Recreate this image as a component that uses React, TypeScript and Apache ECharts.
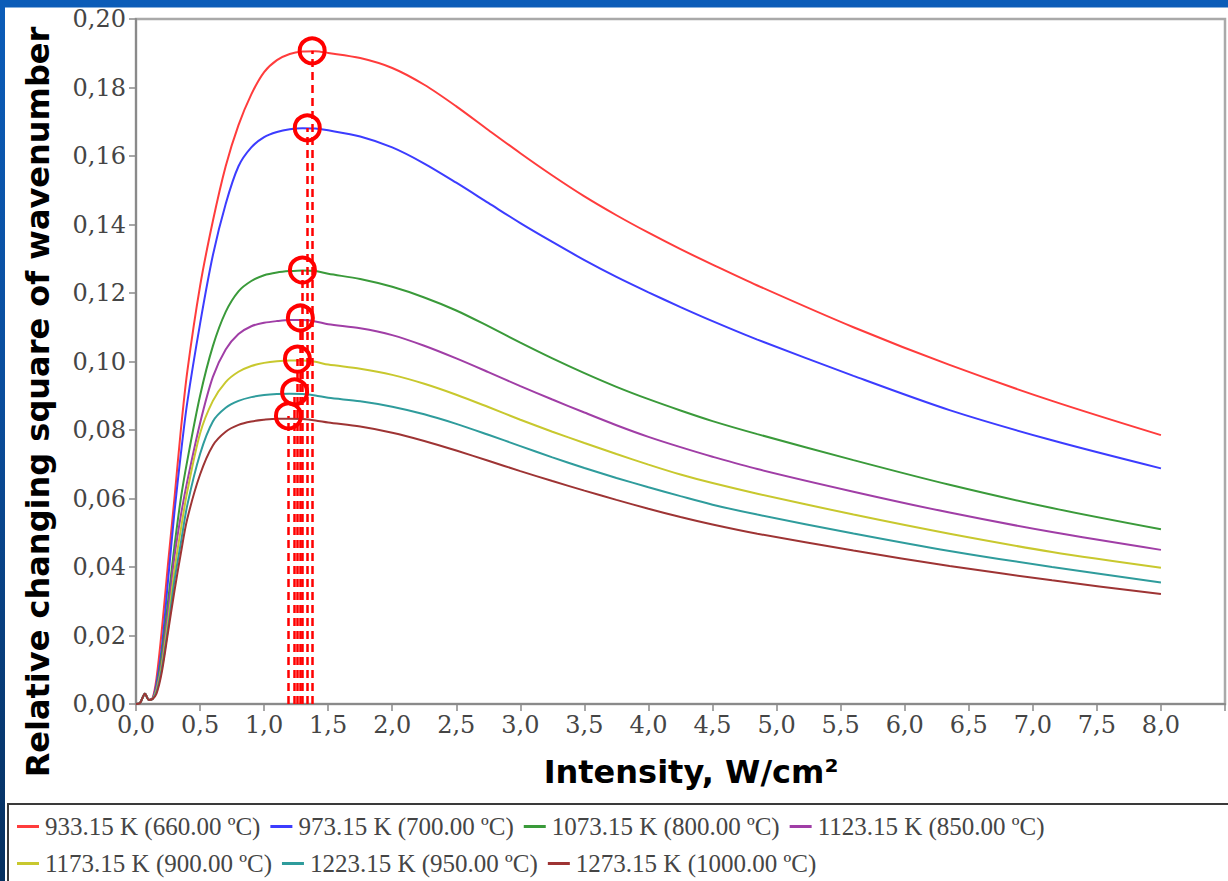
import React, { useEffect, useRef } from "react";
import * as echarts from "echarts";

// Intensity, W/cm² (shared x positions)
const X = [0, 0.03, 0.07, 0.1, 0.13, 0.16, 0.2, 0.25, 0.3, 0.35, 0.4, 0.5, 0.6, 0.7, 0.8, 0.9, 1.0, 1.1, 1.2, 1.3, 1.4, 1.5, 1.75, 2.0, 2.25, 2.5, 2.75, 3.0, 3.25, 3.5, 3.75, 4.0, 4.25, 4.5, 4.85, 5.6, 6.35, 7.15, 8.0];

const NAMES = [
  "933.15 K (660.00 ºC)",
  "973.15 K (700.00 ºC)",
  "1073.15 K (800.00 ºC)",
  "1123.15 K (850.00 ºC)",
  "1173.15 K (900.00 ºC)",
  "1223.15 K (950.00 ºC)",
  "1273.15 K (1000.00 ºC)",
];

const COLORS = ["#ff3c3c", "#3c3cff", "#3a9a3a", "#a03ea6", "#c8c82e", "#2f9c9c", "#9e3434"];

const Y_933 = [0, 0.0002, 0.003, 0.0012, 0.0018, 0.0075, 0.021, 0.041, 0.06, 0.08, 0.097, 0.122, 0.141, 0.157, 0.169, 0.178, 0.1845, 0.188, 0.1898, 0.1905, 0.1906, 0.1901, 0.1886, 0.1857, 0.1808, 0.1745, 0.1676, 0.1608, 0.1543, 0.1482, 0.1427, 0.1376, 0.1328, 0.1283, 0.1222, 0.11, 0.099, 0.0885, 0.0785];
const Y_973 = [0, 0.0002, 0.003, 0.0012, 0.0016, 0.006, 0.016, 0.036, 0.056, 0.073, 0.088, 0.111, 0.131, 0.146, 0.157, 0.1625, 0.1655, 0.167, 0.1678, 0.1681, 0.168, 0.1675, 0.1657, 0.1625, 0.1578, 0.1522, 0.1463, 0.1404, 0.1349, 0.1296, 0.1247, 0.1202, 0.1159, 0.1118, 0.1064, 0.0958, 0.0858, 0.077, 0.0688];
const Y_1073 = [0, 0.0002, 0.003, 0.0012, 0.0015, 0.005, 0.014, 0.03, 0.046, 0.06, 0.071, 0.09, 0.1045, 0.1145, 0.1205, 0.1235, 0.1252, 0.126, 0.1264, 0.1266, 0.1264, 0.1256, 0.1241, 0.1218, 0.1187, 0.1149, 0.1103, 0.1055, 0.1009, 0.0966, 0.0926, 0.089, 0.0857, 0.0826, 0.0788, 0.0712, 0.064, 0.0572, 0.051];
const Y_1123 = [0, 0.0002, 0.003, 0.0012, 0.0015, 0.0045, 0.012, 0.027, 0.043, 0.055, 0.065, 0.082, 0.0955, 0.1035, 0.108, 0.1103, 0.1113, 0.1118, 0.1121, 0.1121, 0.1117, 0.1109, 0.1097, 0.1077, 0.1046, 0.1009, 0.0969, 0.0928, 0.0889, 0.0851, 0.0814, 0.078, 0.075, 0.0722, 0.0686, 0.062, 0.0559, 0.0502, 0.045];
const Y_1173 = [0, 0.0002, 0.003, 0.0012, 0.0015, 0.004, 0.011, 0.024, 0.039, 0.051, 0.062, 0.079, 0.0885, 0.094, 0.097, 0.0987, 0.0996, 0.1001, 0.1003, 0.1003, 0.0999, 0.0991, 0.0979, 0.0961, 0.0935, 0.0903, 0.0867, 0.083, 0.0795, 0.0762, 0.073, 0.0699, 0.067, 0.0645, 0.0614, 0.0553, 0.0497, 0.0444, 0.0398];
const Y_1223 = [0, 0.0002, 0.003, 0.0012, 0.0015, 0.0035, 0.01, 0.022, 0.036, 0.047, 0.058, 0.073, 0.0825, 0.0865, 0.0885, 0.0896, 0.0902, 0.0905, 0.0906, 0.0905, 0.0901, 0.0894, 0.0884, 0.0868, 0.0846, 0.0818, 0.0786, 0.0753, 0.072, 0.0689, 0.066, 0.0633, 0.0607, 0.0582, 0.0553, 0.0498, 0.0447, 0.04, 0.0355];
const Y_1273 = [0, 0.0002, 0.003, 0.0012, 0.0015, 0.003, 0.009, 0.021, 0.033, 0.044, 0.054, 0.067, 0.0755, 0.0795, 0.0815, 0.0825, 0.083, 0.0833, 0.0833, 0.0832, 0.0828, 0.0822, 0.081, 0.0792, 0.0768, 0.074, 0.071, 0.068, 0.0651, 0.0623, 0.0596, 0.057, 0.0546, 0.0524, 0.0497, 0.0448, 0.0403, 0.0361, 0.0321];

const SERIES_Y = [Y_933, Y_973, Y_1073, Y_1123, Y_1173, Y_1223, Y_1273];

// Marked maxima (red circles + dashed drop lines)
const PEAK_X = [1.375, 1.337, 1.299, 1.283, 1.26, 1.238, 1.19];
const PEAK_Y = [0.1907, 0.1682, 0.1267, 0.1127, 0.1007, 0.0911, 0.0841];

const Y_LABEL = "Relative changing square of wavenumber";
const X_LABEL = "Intensity, W/cm²";

export default function App() {
  const ref = useRef<HTMLDivElement>(null);

  useEffect(() => {
    const chart = echarts.init(ref.current as HTMLDivElement, null, { renderer: "svg" });

    const series = NAMES.map((name, i) => ({
      name,
      type: "line",
      data: X.map((x, k) => [x, SERIES_Y[i][k]]),
      showSymbol: false,
      smooth: 0.3,
      color: COLORS[i],
      lineStyle: { color: COLORS[i], width: 2 },
      emphasis: { disabled: true },
      z: 2,
      markLine: {
        silent: true,
        symbol: ["none", "none"],
        label: { show: false },
        emphasis: { disabled: true },
        lineStyle: { color: "#ff0000", type: [8, 5], width: 2.5 },
        data: [[{ coord: [PEAK_X[i], 0] }, { coord: [PEAK_X[i], PEAK_Y[i]] }]],
      },
      markPoint: {
        silent: true,
        symbol: "circle",
        symbolSize: 25,
        label: { show: false },
        itemStyle: { color: "rgba(255,255,255,0)", borderColor: "#ff0000", borderWidth: 4 },
        data: [{ coord: [PEAK_X[i], PEAK_Y[i]] }],
      },
    }));

    chart.setOption({
      animation: false,
      backgroundColor: "transparent",
      grid: {
        left: 136,
        top: 19,
        right: -20.4,
        bottom: 177,
        show: true,
        backgroundColor: "transparent",
        borderColor: "#a9a9a9",
        borderWidth: 2.5,
      },
      xAxis: {
        type: "value",
        min: 0,
        max: 8.5,
        interval: 0.5,
        axisLine: { onZero: false, lineStyle: { color: "#8a8a8a", width: 2 } },
        axisTick: { show: true, length: 7, lineStyle: { color: "#8a8a8a", width: 1.5 } },
        splitLine: { show: false },
        axisLabel: {
          margin: 9,
          fontFamily: "DejaVu Serif",
          fontSize: 24,
          color: "#454545",
          formatter: (v: number) => (v > 8.001 ? "" : v.toFixed(1).replace(".", ",")),
        },
      },
      yAxis: {
        type: "value",
        min: 0,
        max: 0.2,
        interval: 0.02,
        axisLine: { show: true, lineStyle: { color: "#8a8a8a", width: 2 } },
        axisTick: { show: true, length: 7, lineStyle: { color: "#8a8a8a", width: 1.5 } },
        splitLine: { show: false },
        axisLabel: {
          margin: 10,
          fontFamily: "DejaVu Serif",
          fontSize: 24,
          color: "#454545",
          formatter: (v: number) => v.toFixed(2).replace(".", ","),
        },
      },
      legend: {
        data: NAMES,
        left: 12,
        top: 808,
        width: 1150,
        orient: "horizontal",
        icon: "rect",
        itemWidth: 22,
        itemHeight: 3,
        itemGap: 10,
        selectedMode: false,
        textStyle: {
          fontFamily: "Liberation Serif",
          fontSize: 25,
          color: "#454545",
          lineHeight: 27,
          padding: [0, 0, 0, 1],
        },
      },
      graphic: [
        {
          type: "rect",
          z: -10,
          silent: true,
          shape: { x: 5, y: 7.5, width: 1240, height: 890 },
          style: { fill: "#ffffff" },
        },
        {
          type: "rect",
          z: -9,
          silent: true,
          shape: { x: 8, y: 804, width: 1240, height: 100 },
          style: { fill: "#ffffff", stroke: "#3a3a3a", lineWidth: 2 },
        },
        {
          type: "text",
          x: 38,
          y: 402,
          rotation: Math.PI / 2,
          silent: true,
          style: {
            text: Y_LABEL,
            fontFamily: "DejaVu Sans",
            fontWeight: "bold",
            fontSize: 32,
            fill: "#000000",
            align: "center",
            verticalAlign: "middle",
          },
        },
        {
          type: "text",
          x: 691,
          y: 772,
          silent: true,
          style: {
            text: X_LABEL,
            fontFamily: "DejaVu Sans",
            fontWeight: "bold",
            fontSize: 32,
            fill: "#000000",
            align: "center",
            verticalAlign: "middle",
          },
        },
      ],
      series,
    });

    return () => chart.dispose();
  }, []);

  return (
    <div
      ref={ref}
      style={{
        position: "fixed",
        left: 0,
        top: 0,
        width: 1228,
        height: 881,
        background: "linear-gradient(180deg, #0b5cb8 0%, #0a4d9c 45%, #06305f 100%)",
      }}
    />
  );
}
